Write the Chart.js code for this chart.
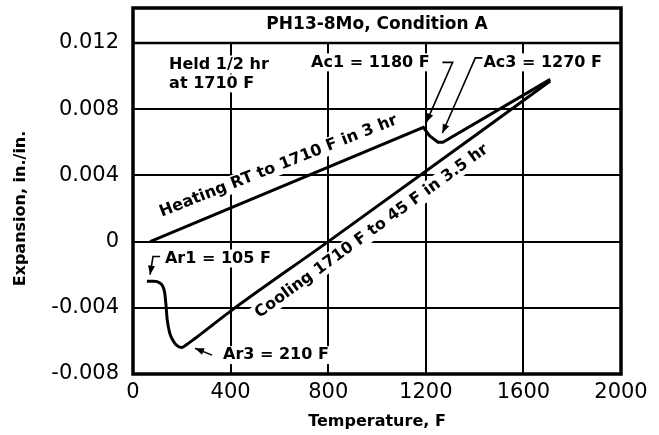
<!DOCTYPE html>
<html>
<head>
<meta charset="utf-8">
<script src="https://cdn.jsdelivr.net/npm/chart.js@4.4.1/dist/chart.umd.min.js"></script>
<style>
  html, body { margin: 0; padding: 0; background: #fff; }
  #wrap { width: 659px; height: 435px; }
</style>
</head>
<body>
<div id="wrap"><canvas id="chart" width="659" height="435"></canvas></div>
<script>
// Dilatometer traces, PH13-8Mo Condition A
const heatTemp = [70, 1190, 1215, 1250, 1270, 1710];
const heatExp = [0, 0.0069, 0.0064, 0.0060, 0.0060, 0.0098];

// cooling trace listed from low to high temperature
const coolTemp = [57, 85, 110, 122, 130, 135, 140, 150, 165, 182, 200, 222, 250, 400, 800, 1710];
const coolExp = [-0.0024, -0.0024, -0.0025, -0.0027, -0.0031, -0.0038, -0.0047, -0.0055, -0.0060, -0.0063, -0.0064, -0.0062, -0.0059, -0.0042, 0, 0.0097];

const xTicks = [0, 400, 800, 1200, 1600, 2000];
const xTickLabels = ['0', '400', '800', '1200', '1600', '2000'];
const yTicks = [-0.008, -0.004, 0, 0.004, 0.008, 0.012];
const yTickLabels = ['-0.008', '-0.004', '0', '0.004', '0.008', '0.012'];

const FONT = 'DejaVu Sans';
const NOTE_FONT = 'bold 16px "DejaVu Sans"';

// plain labels, anchored at their left edge in data units
const notes = [
  { text: 'Held 1/2 hr', at: [148, 0.0107] },
  { text: 'at 1710 F', at: [148, 0.00956] },
  { text: 'Ac1 = 1180 F', at: [730, 0.01083] },
  { text: 'Ac3 = 1270 F', at: [1436, 0.01083] },
  { text: 'Ar1 = 105 F', at: [131, -0.00102] },
  { text: 'Ar3 = 210 F', at: [369, -0.00686] }
];

// labels running along the curves, anchored at their centre
const slanted = [
  { text: 'Heating RT to 1710 F in 3 hr', at: [596, 0.00455], angle: -21.5 },
  { text: 'Cooling 1710 F to 45 F in 3.5 hr', at: [978, 0.00062], angle: -36 }
];

// leader lines, arrowhead on the last point
const leaders = [
  [[1268, 0.01083], [1310, 0.01083], [1202, 0.0072]],
  [[1432, 0.0111], [1403, 0.0111], [1268, 0.00656]],
  [[111, -0.0009], [82, -0.0009], [70, -0.002]],
  [[324, -0.00686], [254, -0.00644]]
];

const toXY = (xs, ys) => xs.map((x, i) => ({ x, y: ys[i] }));

const annotate = {
  id: 'annotate',
  beforeDatasetsDraw(chart) {
    const { ctx, scales: { x, y } } = chart;
    ctx.save();
    ctx.font = NOTE_FONT;
    ctx.textBaseline = 'middle';
    notes.forEach(n => {
      const px = x.getPixelForValue(n.at[0]);
      const py = y.getPixelForValue(n.at[1]);
      const w = ctx.measureText(n.text).width;
      ctx.fillStyle = '#fff';
      ctx.fillRect(px - 3, py - 9, w + 6, 18);
      ctx.fillStyle = '#000';
      ctx.textAlign = 'left';
      ctx.fillText(n.text, px, py);
    });
    slanted.forEach(n => {
      const px = x.getPixelForValue(n.at[0]);
      const py = y.getPixelForValue(n.at[1]);
      ctx.save();
      ctx.translate(px, py);
      ctx.rotate(n.angle * Math.PI / 180);
      const w = ctx.measureText(n.text).width;
      ctx.fillStyle = '#fff';
      ctx.fillRect(-w / 2 - 3, -9, w + 6, 18);
      ctx.fillStyle = '#000';
      ctx.textAlign = 'center';
      ctx.fillText(n.text, 0, 0);
      ctx.restore();
    });
    ctx.restore();
  },
  afterDraw(chart) {
    const { ctx, chartArea: a, scales: { x, y } } = chart;
    ctx.save();
    ctx.strokeStyle = '#000';
    ctx.fillStyle = '#000';

    // leaders with arrowheads
    ctx.lineWidth = 1.6;
    leaders.forEach(pts => {
      const p = pts.map(([t, e]) => [x.getPixelForValue(t), y.getPixelForValue(e)]);
      ctx.beginPath();
      p.forEach(([px, py], i) => (i ? ctx.lineTo(px, py) : ctx.moveTo(px, py)));
      ctx.stroke();
      const [x0, y0] = p[p.length - 2];
      const [x1, y1] = p[p.length - 1];
      const ang = Math.atan2(y1 - y0, x1 - x0);
      const len = 9, half = 3.5;
      ctx.beginPath();
      ctx.moveTo(x1, y1);
      ctx.lineTo(x1 - len * Math.cos(ang) + half * Math.sin(ang), y1 - len * Math.sin(ang) - half * Math.cos(ang));
      ctx.lineTo(x1 - len * Math.cos(ang) - half * Math.sin(ang), y1 - len * Math.sin(ang) + half * Math.cos(ang));
      ctx.closePath();
      ctx.fill();
    });

    // heading band and outer frame
    const bandTop = a.top - 35;
    ctx.lineWidth = 2.5;
    ctx.beginPath();
    ctx.moveTo(a.left, a.top);
    ctx.lineTo(a.right, a.top);
    ctx.stroke();
    ctx.lineWidth = 3.5;
    ctx.strokeRect(a.left, bandTop, a.right - a.left, a.bottom - bandTop);

    ctx.font = 'bold 17px "DejaVu Sans"';
    ctx.textAlign = 'center';
    ctx.textBaseline = 'middle';
    ctx.fillText('PH13-8Mo, Condition A', (a.left + a.right) / 2, bandTop + 17);
    ctx.restore();
  }
};

new Chart(document.getElementById('chart'), {
  type: 'scatter',
  data: {
    datasets: [
      {
        label: 'Heating',
        data: toXY(heatTemp, heatExp),
        showLine: true,
        borderColor: '#000',
        borderWidth: 3,
        pointRadius: 0,
        tension: 0
      },
      {
        label: 'Cooling',
        data: toXY(coolTemp, coolExp),
        showLine: true,
        borderColor: '#000',
        borderWidth: 3,
        pointRadius: 0,
        cubicInterpolationMode: 'monotone'
      }
    ]
  },
  options: {
    responsive: false,
    animation: false,
    layout: { padding: { top: 43, right: 38, left: 0, bottom: 0 } },
    plugins: { legend: { display: false }, tooltip: { enabled: false } },
    scales: {
      x: {
        type: 'linear',
        min: 0,
        max: 2000,
        afterBuildTicks: s => { s.ticks = xTicks.map(v => ({ value: v })); },
        afterFit: s => { s.height = 61; },
        ticks: {
          color: '#000',
          font: { family: FONT, size: 21 },
          padding: 6,
          maxRotation: 0,
          autoSkip: false,
          callback: (v, i) => xTickLabels[i]
        },
        grid: { color: '#000', lineWidth: 2, drawTicks: false },
        border: { display: false },
        title: { display: true, text: 'Temperature, F', color: '#000', font: { family: FONT, size: 16, weight: 'bold' }, padding: { top: 0, bottom: 4 } }
      },
      y: {
        type: 'linear',
        min: -0.008,
        max: 0.012,
        afterBuildTicks: s => { s.ticks = yTicks.map(v => ({ value: v })); },
        afterFit: s => { s.width = 133; },
        ticks: {
          color: '#000',
          font: { family: FONT, size: 21 },
          padding: 14,
          autoSkip: false,
          callback: (v, i) => yTickLabels[i]
        },
        grid: { color: '#000', lineWidth: 2, drawTicks: false },
        border: { display: false },
        title: { display: true, text: 'Expansion, in./in.', color: '#000', font: { family: FONT, size: 16, weight: 'bold' }, padding: { top: 11, bottom: 0 } }
      }
    }
  },
  plugins: [annotate]
});
</script>
</body>
</html>
